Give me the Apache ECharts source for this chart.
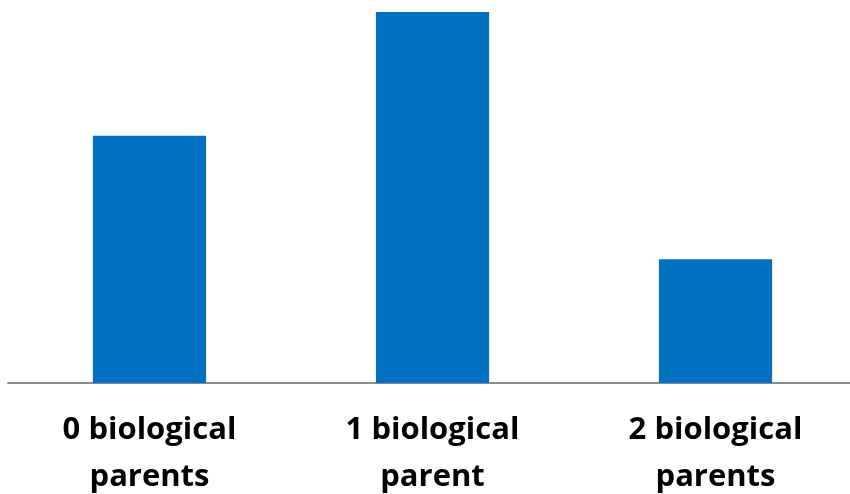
<!DOCTYPE html>
<html>
<head>
<meta charset="utf-8">
<script src="https://cdn.jsdelivr.net/npm/echarts@6/dist/echarts.min.js"></script>
<style>
  html, body { margin: 0; padding: 0; background: #fff; }
  #chart { width: 850px; height: 494px; }
</style>
</head>
<body>
<div id="chart"></div>
<script>
// categories and values (no value axis shown, read as relative heights)
const categories = ['0 biological\nparents', '1 biological\nparent', '2 biological\nparents'];
const values = [20, 30, 10];

const chart = echarts.init(document.getElementById('chart'));
chart.setOption({
  animation: false,
  grid: { left: 8, top: 12, right: -7, bottom: 111, containLabel: false, outerBoundsMode: 'none' },
  xAxis: {
    type: 'category',
    data: categories,
    axisLine: { lineStyle: { color: '#8c8c8c', width: 2 } },
    axisTick: { show: false },
    axisLabel: {
      interval: 0,
      margin: 24,
      color: '#000',
      fontFamily: 'Open Sans',
      fontWeight: 'bold',
      fontSize: 31,
      lineHeight: 47
    }
  },
  yAxis: {
    type: 'value',
    min: 0,
    max: 30,
    show: false
  },
  series: [{
    type: 'bar',
    data: values,
    barCategoryGap: '60%',
    itemStyle: { color: '#0070c0' }
  }]
});
</script>
</body>
</html>
